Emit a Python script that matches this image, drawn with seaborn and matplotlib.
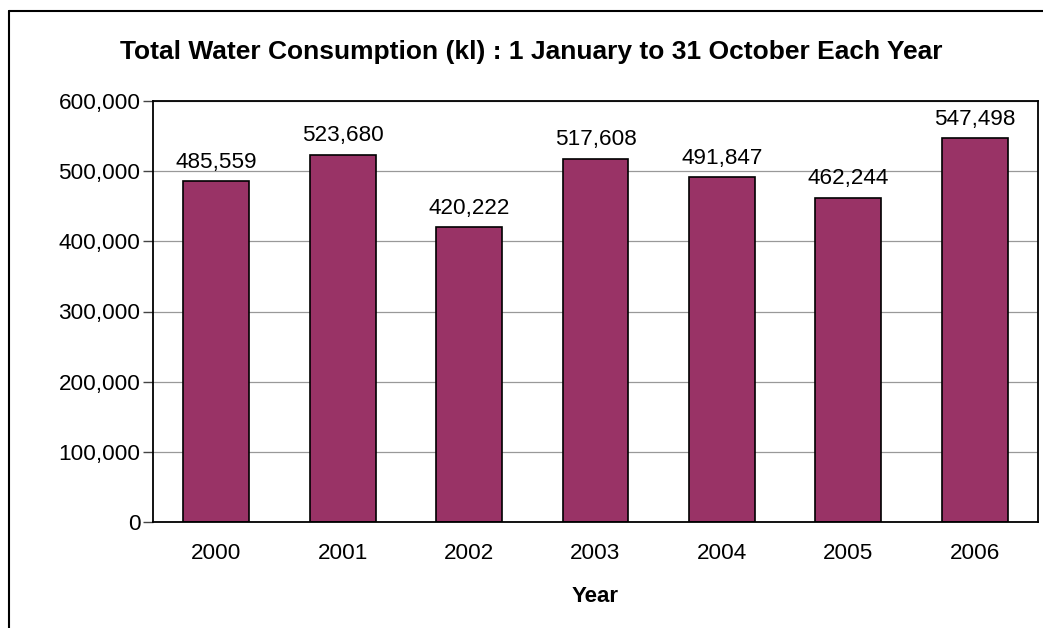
import numpy as np
import matplotlib
matplotlib.use("Agg")
import matplotlib.pyplot as plt
from matplotlib.lines import Line2D
import seaborn as sns

years = ["2000", "2001", "2002", "2003", "2004", "2005", "2006"]
consumption = [485559, 523680, 420222, 517608, 491847, 462244, 547498]
y_ticks = [0, 100000, 200000, 300000, 400000, 500000, 600000]

sns.set_style("white")
plt.rcParams['font.family'] = ['Liberation Sans', 'DejaVu Sans']
plt.rcParams['text.color'] = 'black'
plt.rcParams['axes.labelcolor'] = 'black'
plt.rcParams['xtick.color'] = 'black'
plt.rcParams['ytick.color'] = 'black'

fig = plt.figure(figsize=(10.43, 6.28), dpi=100)
ax = fig.add_axes([153/1043, 1 - 522/628, (1038 - 153)/1043, (522 - 101)/628])

sns.barplot(x=years, y=consumption, color="#993366", saturation=1,
            edgecolor="black", linewidth=1.2, width=0.52, ax=ax)

# value labels on top of bars
ax.bar_label(ax.containers[0], labels=[f"{v:,}" for v in consumption],
             padding=6, fontsize=16.2, color="black")

ax.set_ylim(0, 600000)
ax.set_xlim(-0.5, len(years) - 0.5)
ax.set_yticks(y_ticks)
ax.set_yticklabels([f"{t:,}" for t in y_ticks], fontsize=16.2)
ax.tick_params(axis="x", which="major", length=0, labelsize=16.2, pad=15)
ax.set_xticks(np.arange(-0.5, len(years), 1), minor=True)
ax.tick_params(axis="x", which="minor", length=7, color="#444444", width=1)
ax.tick_params(axis="y", length=7, color="#444444", labelcolor="black", width=1, left=True, pad=2)

ax.yaxis.grid(True, color="#999999", linewidth=0.9)
ax.set_axisbelow(True)
for side in ["left", "bottom", "top", "right"]:
    ax.spines[side].set_color("black")
    ax.spines[side].set_linewidth(1.3)

ax.set_xlabel("Year", fontsize=16, fontweight="bold", labelpad=16)
ax.set_ylabel("")

fig.text(531/1043, 1 - 52/628,
         "Total Water Consumption (kl) : 1 January to 31 October Each Year",
         ha="center", va="center", fontsize=19, fontweight="bold")

# outer chart frame (left and top edges)
fig.add_artist(Line2D([9/1043, 9/1043], [0, 1 - 11/628], color="black", linewidth=1.5))
fig.add_artist(Line2D([9/1043, 1], [1 - 11/628, 1 - 11/628], color="black", linewidth=1.5))

fig.savefig("out.png", dpi=100)
